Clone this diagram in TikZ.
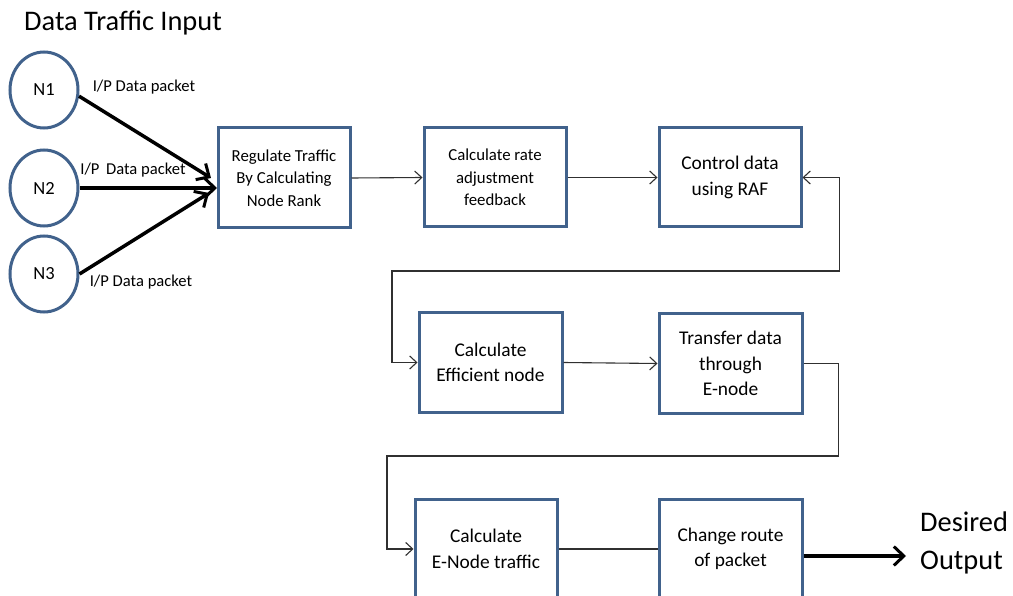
\documentclass[tikz,border=0pt]{standalone}
\usepackage{fontspec}
\setmainfont{Carlito}
\usetikzlibrary{arrows.meta,shapes.geometric}
\definecolor{boxblue}{HTML}{41628C}
\definecolor{linegray}{HTML}{303030}
\tikzset{
  procbox/.style={draw=boxblue, line width=3pt, fill=white, rectangle, align=center, inner sep=2pt},
  smalltxt/.style={font=\fontsize{16.8}{22.5}\selectfont},
  bigtxt/.style={font=\fontsize{19.4}{25.5}\selectfont},
  innode/.style={draw=boxblue, line width=3pt, ellipse, minimum width=68pt, minimum height=76pt, inner sep=0pt, font=\fontsize{18.5}{20}\selectfont},
  conn/.style={draw=linegray, line width=1.1pt, -{Straight Barb[length=7pt,width=13pt,line width=1.1pt]}},
  plain/.style={draw=linegray, line width=1.1pt},
  thickarr/.style={draw=black, line width=3.5pt, -{Straight Barb[length=10pt,width=19pt,line width=3pt]}},
  lbl/.style={font=\fontsize{16.6}{18}\selectfont, inner sep=0pt},
  head/.style={font=\fontsize{28.4}{38}\selectfont, inner sep=0pt, align=left}
}
\begin{document}
\begin{tikzpicture}[x=1pt,y=-1pt]
\useasboundingbox (0,0) rectangle (1013,596);
\clip (0,0) rectangle (1013,596);
\fill[white] (0,0) rectangle (1013,596);

\node[head, anchor=west] (title) at (24,23) {Data Traffic Input};

\node[innode] (n1) at (44,90) {N1};
\node[innode] (n2) at (44,188) {N2};
\node[innode] (n3) at (44,274) {N3};

\node[procbox, smalltxt, minimum width=132pt, minimum height=100pt] (reg) at (284,178) {Regulate Traffic\\By Calculating\\Node Rank};
\node[procbox, smalltxt, minimum width=142pt, minimum height=99pt] (rate) at (495,177.5) {Calculate rate\\adjustment\\feedback};
\node[procbox, bigtxt, minimum width=142pt, minimum height=99pt] (ctrl) at (730,177.5) {Control data\\using RAF};

\node[procbox, bigtxt, minimum width=143pt, minimum height=99pt] (eff) at (490.5,362.5) {Calculate\\Efficient node};
\node[procbox, bigtxt, minimum width=143pt, minimum height=99pt] (trans) at (730.5,363.5) {Transfer data\\through\\E-node};

\node[procbox, bigtxt, minimum width=142pt, minimum height=100pt] (enode) at (486,549) {Calculate\\E-Node traffic};
\node[procbox, bigtxt, minimum width=143pt, minimum height=100pt] (route) at (730.5,549) {Change route\\of packet};

\node[head, anchor=west] (out) at (920,543) {Desired\\Output};

\coordinate (t1) at (211,178);
\coordinate (t2) at (217,188);
\coordinate (t3) at (209,193);
\draw[thickarr] (n1.-10) -- (t1);
\draw[thickarr] (n2.east) -- (t2);
\draw[thickarr] (n3.east) -- (t3);

\node[lbl] (l1) at (144,87) {I/P Data packet};
\node[lbl] (l2) at (133,170) {I/P\, Data packet};
\node[lbl] (l3) at (141,282) {I/P Data packet};

\draw[conn] (reg.east) -- (rate.west);
\draw[conn] (rate.east) -- (ctrl.west);
\draw[conn, {Straight Barb[length=7pt,width=13pt,line width=1.1pt]}-{Straight Barb[length=7pt,width=13pt,line width=1.1pt]}] (ctrl.east) -- ++(37,0) |- (392,271) |- (eff.west);
\draw[conn] (eff.east) -- (trans.west);
\draw[conn] (trans.east) -- ++(35,0) |- (387,456) |- (enode.west);
\draw[plain] (enode.east) -- (route.west);

\coordinate (o1) at (906,556);
\draw[thickarr] (route.east |- o1) -- (o1);
\end{tikzpicture}
\end{document}
